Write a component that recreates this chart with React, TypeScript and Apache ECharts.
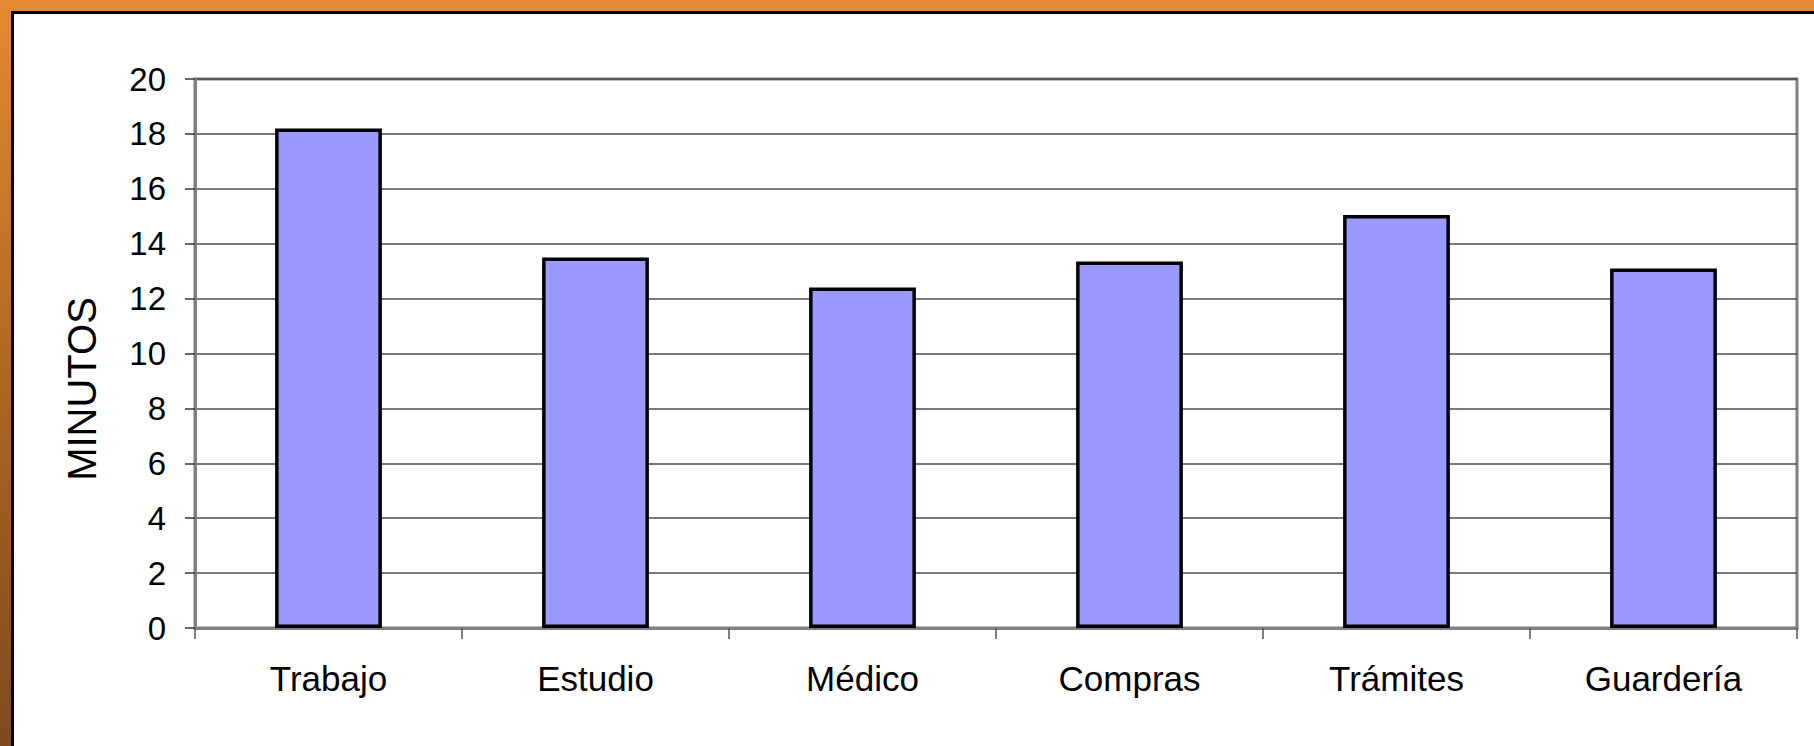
import React, { useEffect, useRef } from "react";
import * as echarts from "echarts";

const categories = ["Trabajo", "Estudio", "Médico", "Compras", "Trámites", "Guardería"];
const minutos = [18.2, 13.5, 12.4, 13.35, 15.05, 13.1];
const yTitle = "MINUTOS";

export default function App() {
  const ref = useRef<HTMLDivElement>(null);
  useEffect(() => {
    document.body.style.margin = "0";
    const chart = echarts.init(ref.current!, null, { renderer: "svg" });
    chart.setOption({
      animation: false,
      backgroundColor: "#ffffff",
      textStyle: { fontFamily: "Liberation Sans, Arial, sans-serif" },
      grid: {
        left: 195,
        top: 79,
        right: 17,
        bottom: 118,
        show: true,
        borderColor: "#808080",
        borderWidth: 3,
        backgroundColor: "transparent",
      },
      xAxis: {
        type: "category",
        data: categories,
        axisLine: { show: true, lineStyle: { color: "#808080", width: 3 } },
        axisTick: { show: true, length: 11, lineStyle: { color: "#555555", width: 1.5 } },
        axisLabel: {
          color: "#000",
          fontSize: 35,
          margin: 33,
          fontFamily: "Liberation Sans, Arial, sans-serif",
        },
        splitLine: { show: false },
      },
      yAxis: {
        type: "value",
        min: 0,
        max: 20,
        interval: 2,
        axisLine: { show: true, lineStyle: { color: "#808080", width: 3 } },
        axisTick: { show: true, length: 10, lineStyle: { color: "#333333", width: 1.5 } },
        axisLabel: {
          color: "#000",
          fontSize: 33,
          margin: 29,
          fontFamily: "Liberation Sans, Arial, sans-serif",
        },
        splitLine: { show: true, lineStyle: { color: "#4d4d4d", width: 1.5 } },
      },
      series: [
        {
          type: "bar",
          data: minutos,
          barWidth: "40%",
          itemStyle: { color: "#9999FF", borderColor: "#000000", borderWidth: 3.5 },
        },
      ],
      graphic: [
        {
          type: "rect",
          shape: { x: 0, y: 0, width: 1814, height: 11 },
          style: { fill: "#E48A30" },
          silent: true,
          z: 100,
        },
        {
          type: "rect",
          shape: { x: 0, y: 0, width: 11, height: 746 },
          style: {
            fill: new echarts.graphic.LinearGradient(0, 0, 0, 1, [
              { offset: 0, color: "#E48A30" },
              { offset: 0.5, color: "#AE6824" },
              { offset: 1, color: "#7E4A1E" },
            ]),
          },
          silent: true,
          z: 100,
        },
        {
          type: "rect",
          shape: { x: 11, y: 11, width: 1803, height: 3 },
          style: { fill: "#000000" },
          silent: true,
          z: 100,
        },
        {
          type: "rect",
          shape: { x: 11, y: 11, width: 3, height: 735 },
          style: { fill: "#000000" },
          silent: true,
          z: 100,
        },
        {
          type: "text",
          x: 82,
          y: 389,
          rotation: Math.PI / 2,
          style: {
            text: yTitle,
            fontSize: 40,
            fill: "#000",
            fontFamily: "Liberation Sans, Arial, sans-serif",
            align: "center",
            verticalAlign: "middle",
          },
          z: 100,
        },
      ],
    });
    return () => chart.dispose();
  }, []);
  return (
    <div
      ref={ref}
      style={{ position: "fixed", left: 0, top: 0, width: 1814, height: 746 }}
    />
  );
}
